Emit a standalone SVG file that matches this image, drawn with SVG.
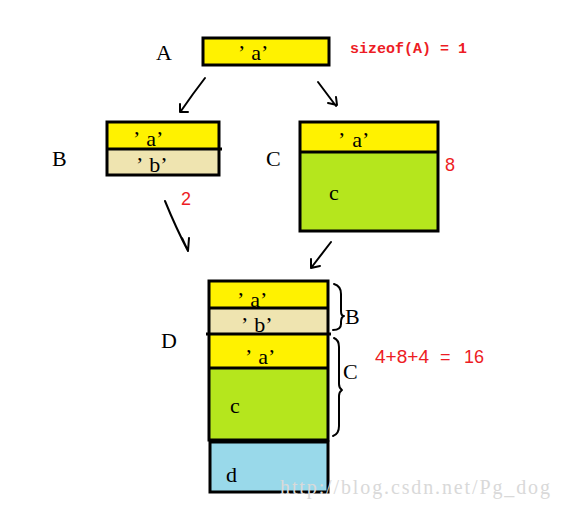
<svg xmlns="http://www.w3.org/2000/svg" width="561" height="506" viewBox="0 0 561 506">
<style>
.box{stroke:#000;stroke-width:3}
.y{fill:#FFF200}.t{fill:#EFE4B0}.g{fill:#B5E61D}.bl{fill:#99D9EA}
.lbl{font-family:"Liberation Serif",serif;font-size:22px;fill:#000}
.in{font-family:"Liberation Serif",serif;font-size:22px;fill:#000}
.red{font-family:"Liberation Sans",sans-serif;font-size:18px;fill:#ED1C24}
.mono{font-family:"Liberation Mono",monospace;font-size:15px;font-weight:bold;fill:#ED1C24}
.ln{fill:none;stroke:#000;stroke-width:2;stroke-linecap:round;stroke-linejoin:round}
</style>
<rect width="561" height="506" fill="#fff"/>
<g id="A">
<rect class="box y" x="203" y="38" width="126" height="27"/>
<text class="in" x="238" y="60">’<tspan dx="6">a’</tspan></text>
<text class="lbl" x="156" y="60">A</text>
<text class="mono" x="350" y="53">sizeof(A) = 1</text>
</g>
<g id="B">
<rect class="y" x="107" y="122" width="112" height="27"/>
<rect class="t" x="107" y="149" width="112" height="26"/>
<rect class="box" x="107" y="122" width="112" height="53" fill="none"/>
<line x1="107" y1="149" x2="222" y2="149" stroke="#000" stroke-width="3"/>
<text class="in" x="133" y="146">’<tspan dx="6">a’</tspan></text>
<text class="in" x="136" y="172">’<tspan dx="6">b’</tspan></text>
<text class="lbl" x="52" y="166">B</text>
<text class="red" x="181" y="205">2</text>
</g>
<g id="C">
<rect class="y" x="300" y="122" width="138" height="30"/>
<rect class="g" x="300" y="152" width="138" height="79"/>
<rect class="box" x="300" y="122" width="138" height="109" fill="none"/>
<line x1="300" y1="152" x2="438" y2="152" stroke="#000" stroke-width="3"/>
<text class="in" x="338" y="147">’<tspan dx="7">a’</tspan></text>
<text class="in" x="329" y="200">c</text>
<text class="lbl" x="266" y="166">C</text>
<text class="red" x="445" y="171">8</text>
</g>
<g id="D">
<rect class="y" x="209" y="281" width="119" height="27"/>
<rect class="t" x="209" y="308" width="119" height="26"/>
<rect class="y" x="209" y="334" width="119" height="34"/>
<rect class="g" x="209" y="368" width="119" height="72"/>
<rect class="box" x="209" y="281" width="119" height="159" fill="none"/>
<line x1="209" y1="308" x2="328" y2="308" stroke="#000" stroke-width="3"/>
<line x1="206" y1="334" x2="331" y2="334" stroke="#000" stroke-width="3"/>
<line x1="209" y1="368" x2="328" y2="368" stroke="#000" stroke-width="3"/>
<rect class="box bl" x="210" y="442" width="118" height="50"/>
<text class="in" x="237" y="307">’<tspan dx="6">a’</tspan></text>
<text class="in" x="241" y="332">’<tspan dx="6">b’</tspan></text>
<text class="in" x="245" y="364">’<tspan dx="6">a’</tspan></text>
<text class="in" x="230" y="413">c</text>
<text class="in" x="226" y="482">d</text>
<text class="lbl" x="161" y="348">D</text>
<path class="ln" d="M334,284 Q341,286 341,294 L341,311 Q341,316 344,316 Q341,317 341,322 L341,324 Q341,330 333,330"/>
<text class="lbl" x="345" y="324">B</text>
<path class="ln" d="M334,338 Q339,340 339,347 L339,384 Q339,388 342,390 Q339,392 339,396 L339,426 Q339,434 333,436"/>
<text class="lbl" x="343" y="379">C</text>
<text class="red" x="375" y="363" textLength="54" lengthAdjust="spacingAndGlyphs">4+8+4</text>
<text class="red" x="440" y="363">=</text>
<text class="red" x="464" y="363">16</text>
</g>
<g id="connectors">
<path class="ln" d="M205,78 L199,86 L193,94 L181,111 M180,104 L180,112 L188,112"/>
<path class="ln" d="M318,82 L336,106 M328,103 L337,105 L336,97"/>
<path class="ln" d="M165,201 Q176,228 188,251 M182,238 L188,251 L189,238"/>
<path class="ln" d="M331,242 L311,268 M311,259 L311,268 L320,266"/>
</g>
<text x="280" y="494" font-family="Liberation Serif,serif" font-size="20" fill="#d9d9d9" textLength="270" lengthAdjust="spacing">http://blog.csdn.net/Pg_dog</text>
</svg>
